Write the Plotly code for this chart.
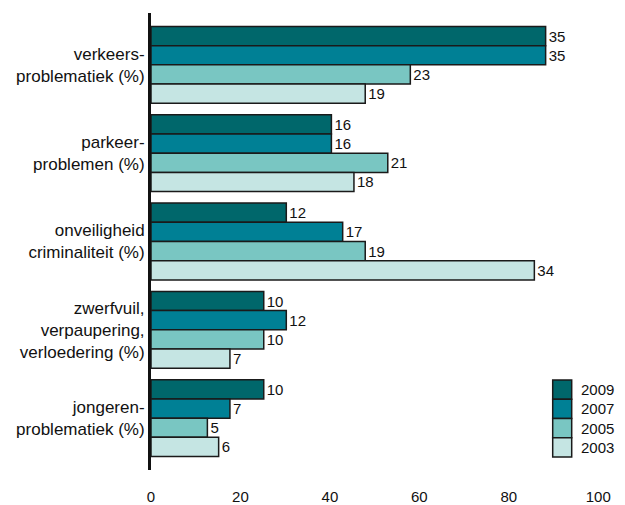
import plotly.graph_objects as go

categories = [
    "verkeers-<br>problematiek (%)",
    "parkeer-<br>problemen (%)",
    "onveiligheid<br>criminaliteit (%)",
    "zwerfvuil,<br>verpaupering,<br>verloedering (%)",
    "jongeren-<br>problematiek (%)",
]
series_names = ["2009", "2007", "2005", "2003"]
values_2009 = [35, 16, 12, 10, 10]
values_2007 = [35, 16, 17, 12, 7]
values_2005 = [23, 21, 19, 10, 5]
values_2003 = [19, 18, 34, 7, 6]
tick_labels = ["0", "20", "40", "60", "80", "100"]

colors = ["#00676B", "#008095", "#79C6C2", "#C5E5E3"]
series = [values_2009, values_2007, values_2005, values_2003]

W, H = 625, 505
PL, PR, PT, PB = 151, 602, 13, 470  # plot area edges in page pixels
ML, MR, MT, MB = PL, W - PR, PT, H - PB
plot_w = PR - PL
plot_h = PB - PT
FONT = "Liberation Sans, Arial, sans-serif"

fig = go.Figure()
for name, vals, col in zip(series_names, series, colors):
    fig.add_trace(go.Bar(
        y=categories, x=vals, name=name, orientation="h",
        marker=dict(color=col, line=dict(color="#1a1a1a", width=1.5)),
        text=[str(v) for v in vals], textposition="outside",
        textfont=dict(size=15, color="#111", family=FONT),
        cliponaxis=False, showlegend=False,
    ))

scale = 0.3967  # axis label units -> value units as drawn
tickvals = [int(t) * scale for t in tick_labels]


def px_x(px):
    return (px - PL) / plot_w


def px_y(py):
    return (PB - py) / plot_h


shapes = []
annotations = []
sq = 19.25
for i, (name, col) in enumerate(zip(series_names, colors)):
    top = 380 + i * sq
    shapes.append(dict(type="rect", xref="paper", yref="paper",
                       x0=px_x(552.7), x1=px_x(571.7),
                       y0=px_y(top + sq), y1=px_y(top),
                       fillcolor=col, line=dict(color="#1a1a1a", width=1.5)))
    annotations.append(dict(xref="paper", yref="paper", x=px_x(579), y=px_y(top + sq / 2),
                            text=name, showarrow=False, xanchor="left", yanchor="middle",
                            font=dict(size=15, color="#111", family=FONT)))

fig.update_layout(
    template="none",
    width=W, height=H,
    margin=dict(l=ML, r=MR, t=MT, b=MB, pad=0),
    paper_bgcolor="white", plot_bgcolor="white",
    barmode="group", bargap=0.13, bargroupgap=0,
    font=dict(family=FONT, color="#111"),
    shapes=shapes, annotations=annotations,
    xaxis=dict(range=[0, 40], tickvals=tickvals, ticktext=tick_labels, automargin=False,
               showgrid=False, zeroline=False, showline=False, ticks="",
               ticklabelstandoff=16, tickfont=dict(size=15, family=FONT, color="#111")),
    yaxis=dict(range=[4.587, -0.587], showgrid=False, zeroline=False, automargin=False,
               showline=True, linewidth=3, linecolor="#111", ticks="",
               ticklabelstandoff=0, tickfont=dict(size=17, family=FONT, color="#111")),
)

fig.write_html(
    "out.html",
    config={"displayModeBar": False},
    post_script="document.body.style.margin='0px';document.body.style.overflow='hidden';",
)
